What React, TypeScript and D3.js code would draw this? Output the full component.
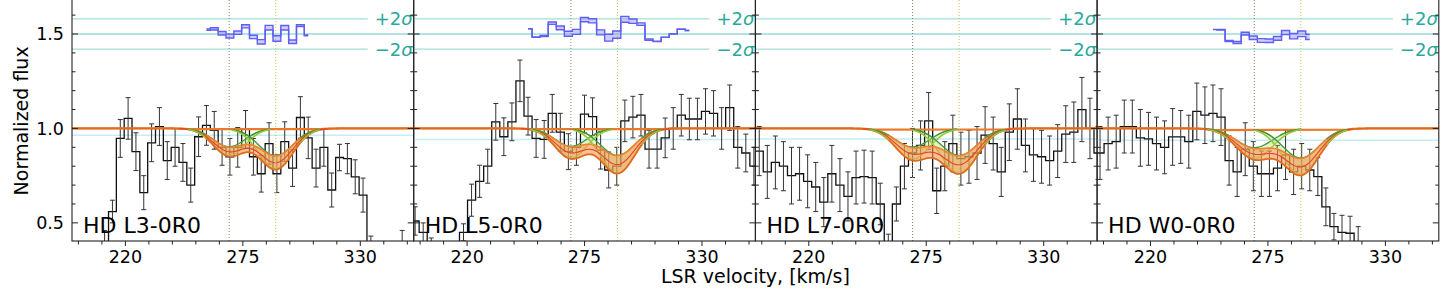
import React, { useEffect, useRef } from 'react';
import * as d3 from 'd3';

// ---------------- data ----------------
const PANEL_NAMES = ['HD L3-0R0', 'HD L5-0R0', 'HD L7-0R0', 'HD W0-0R0'];

// spectral bins: centre of first bin and bin width (km/s)
const BIN_START = [195.6, 195.66, 196.8, 192.6];
const BIN_WIDTH = [3.667, 3.777, 3.777, 3.777];

const FLUX_L3 = [0.30, 0.30, 0.30, 0.30, 0.40, 0.56, 0.947, 1.053, 0.877, 0.66, 0.924, 1.01, 0.83, 0.90, 0.82, 0.70, 0.956, 1.016, 0.99, 0.90, 0.85, 0.90, 0.995, 0.85, 0.76, 0.92, 0.76, 0.93, 0.79, 1.058, 0.95, 0.79, 0.90, 0.674, 0.846, 0.84, 0.744, 0.647, 0.35, 0.25, 0.25, 0.25, 0.36, 0.25];
const ERR_L3 = [0.05, 0.05, 0.05, 0.05, 0.06, 0.06, 0.10, 0.11, 0.10, 0.09, 0.10, 0.10, 0.10, 0.10, 0.10, 0.09, 0.105, 0.105, 0.10, 0.095, 0.097, 0.105, 0.10, 0.097, 0.097, 0.11, 0.10, 0.105, 0.097, 0.11, 0.11, 0.10, 0.10, 0.09, 0.07, 0.08, 0.09, 0.09, 0.08, 0.05, 0.05, 0.05, 0.10, 0.05];

const FLUX_L5 = [0.51, 0.45, 0.36, 0.30, 0.30, 0.30, 0.45, 0.62, 0.72, 0.80, 1.035, 0.956, 1.035, 1.252, 1.065, 0.947, 0.942, 1.08, 0.98, 0.877, 0.90, 1.076, 1.062, 0.885, 0.78, 0.80, 1.04, 1.06, 1.07, 0.89, 0.89, 0.95, 1.00, 1.07, 1.05, 1.05, 1.09, 1.08, 1.00, 1.11, 0.90, 0.87, 0.80];
const ERR_L5 = [0.075, 0.05, 0.06, 0.05, 0.05, 0.05, 0.045, 0.085, 0.085, 0.09, 0.097, 0.10, 0.10, 0.11, 0.10, 0.10, 0.10, 0.10, 0.10, 0.095, 0.095, 0.10, 0.10, 0.10, 0.095, 0.10, 0.11, 0.11, 0.11, 0.10, 0.10, 0.105, 0.11, 0.11, 0.11, 0.11, 0.12, 0.12, 0.11, 0.12, 0.11, 0.10, 0.10];

const FLUX_L7 = [0.88, 0.77, 0.82, 0.80, 0.75, 0.76, 0.72, 0.69, 0.61, 0.76, 0.70, 0.64, 0.74, 0.745, 0.74, 0.60, 0.36, 0.60, 0.80, 0.87, 0.91, 1.04, 0.67, 0.80, 0.92, 0.84, 0.85, 0.87, 0.965, 0.92, 0.77, 0.98, 1.05, 0.91, 0.86, 0.85, 0.83, 0.88, 0.97, 0.98, 1.10, 1.00, 0.87];
const ERR_L7 = [0.13, 0.14, 0.14, 0.13, 0.15, 0.14, 0.14, 0.13, 0.13, 0.15, 0.14, 0.13, 0.14, 0.14, 0.14, 0.11, 0.08, 0.09, 0.12, 0.13, 0.13, 0.15, 0.12, 0.13, 0.15, 0.14, 0.14, 0.14, 0.15, 0.14, 0.13, 0.15, 0.16, 0.14, 0.14, 0.14, 0.13, 0.14, 0.15, 0.16, 0.17, 0.16, 0.14];

const FLUX_W0 = [0.99, 0.87, 0.92, 0.93, 1.01, 1.01, 0.95, 0.945, 0.92, 0.90, 0.955, 0.955, 0.93, 1.09, 1.07, 1.08, 1.06, 0.83, 0.77, 0.89, 0.80, 0.76, 0.76, 0.79, 0.86, 0.77, 0.80, 0.78, 0.745, 0.585, 0.48, 0.45, 0.445, 0.40, 0.30, 0.30, 0.30, 0.30, 0.30, 0.30, 0.30, 0.30, 0.30, 0.30];
const ERR_W0 = [0.14, 0.14, 0.14, 0.14, 0.14, 0.14, 0.15, 0.14, 0.14, 0.14, 0.15, 0.14, 0.14, 0.15, 0.15, 0.15, 0.15, 0.13, 0.13, 0.14, 0.13, 0.12, 0.12, 0.12, 0.13, 0.12, 0.12, 0.11, 0.10, 0.10, 0.07, 0.09, 0.09, 0.08, 0.05, 0.05, 0.05, 0.05, 0.05, 0.05, 0.05, 0.05, 0.05, 0.05];

// two-component gaussian fit (centres in km/s, depths, widths), band = relative spread
const CENTRES = [268.6, 290.4];
const DEPTH_A = [0.12, 0.125, 0.13, 0.13];
const DEPTH_B = [0.18, 0.19, 0.19, 0.2];
const SIGMA_A = [7.5, 7.5, 8, 8.5];
const SIGMA_B = [8, 8, 8.5, 8.5];
const BAND = [0.2, 0.25, 0.25, 0.22];

// faint continuum line just under 1.0
const CONT_LINE = [0.964, 0.942, 0.944, 0.938];
// velocity window where residuals are drawn (null = none)
const RESID_RANGE: ([number, number] | null)[] = [[257, 306], [248, 325], null, [248, 295]];

const X_TICKS = [220, 275, 330];
const Y_TICKS = [0.5, 1.0, 1.5];

// ---------------- layout ----------------
const W = 1440;
const H = 288;
const LEFT = 72;
const PANEL_W = 341.7;
const PLOT_TOP = 0;
const PLOT_BOTTOM = 241;
const X_DOMAIN = [195, 355];
const Y_DOMAIN = [0.404, 1.68];
const FONT = "'DejaVu Sans', sans-serif";

const FLUXES = [FLUX_L3, FLUX_L5, FLUX_L7, FLUX_W0];
const ERRS = [ERR_L3, ERR_L5, ERR_L7, ERR_W0];
const DEPTHS = [DEPTH_A, DEPTH_B];
const SIGMAS = [SIGMA_A, SIGMA_B];

// model flux for panel p, depth scaled by `scale`; `only` picks one component
const model = (v: number, p: number, scale: number, only?: number) => {
  let f = 1;
  CENTRES.forEach((c, i) => {
    if (only !== undefined && only !== i) return;
    const s = SIGMAS[i][p];
    f *= 1 - DEPTHS[i][p] * scale * Math.exp(-((v - c) ** 2) / (2 * s * s));
  });
  return f;
};

const App = () => {
  const svgRef = useRef<SVGSVGElement | null>(null);

  useEffect(() => {
    const svg = d3.select(svgRef.current);
    svg.selectAll('*').remove();

    const y = d3.scaleLinear().domain(Y_DOMAIN).range([PLOT_BOTTOM, PLOT_TOP]);
    const samples = d3.range(X_DOMAIN[0], X_DOMAIN[1] + 0.01, 0.4);

    PANEL_NAMES.forEach((name, p) => {
      const left = LEFT + p * PANEL_W;
      const right = left + PANEL_W;
      const x = d3.scaleLinear().domain(X_DOMAIN).range([left, right]);
      const flux = FLUXES[p];
      const err = ERRS[p];
      const bw = BIN_WIDTH[p];
      const centres = flux.map((_, i) => BIN_START[p] + i * bw);
      const band = BAND[p];

      const clipId = `clip-${p}`;
      svg.append('clipPath').attr('id', clipId)
        .append('rect')
        .attr('x', left).attr('y', PLOT_TOP)
        .attr('width', PANEL_W).attr('height', PLOT_BOTTOM - PLOT_TOP);
      const g = svg.append('g').attr('clip-path', `url(#${clipId})`);

      // faint line under the continuum
      g.append('line')
        .attr('x1', left).attr('x2', right)
        .attr('y1', y(CONT_LINE[p])).attr('y2', y(CONT_LINE[p]))
        .attr('stroke', '#c4eef6').attr('stroke-width', 1.5);

      // residual reference lines
      [1.42, 1.58].forEach(v => {
        g.append('line')
          .attr('x1', left).attr('x2', right)
          .attr('y1', y(v)).attr('y2', y(v))
          .attr('stroke', '#8fd6cc').attr('stroke-width', 1);
      });
      g.append('line')
        .attr('x1', left).attr('x2', right)
        .attr('y1', y(1.5)).attr('y2', y(1.5))
        .attr('stroke', '#6cc8cc').attr('stroke-width', 1.2);

      // data histogram
      const histPts: [number, number][] = [];
      flux.forEach((f, i) => {
        histPts.push([x(centres[i] - bw / 2), y(f)], [x(centres[i] + bw / 2), y(f)]);
      });
      g.append('path')
        .attr('d', d3.line()(histPts))
        .attr('fill', 'none').attr('stroke', '#111').attr('stroke-width', 1.3);

      // error bars
      const eb = g.append('g').attr('stroke', '#333').attr('stroke-width', 1);
      flux.forEach((f, i) => {
        const cx = x(centres[i]);
        eb.append('line').attr('x1', cx).attr('x2', cx).attr('y1', y(f - err[i])).attr('y2', y(f + err[i]));
        [f - err[i], f + err[i]].forEach(v => {
          eb.append('line').attr('x1', cx - 2.5).attr('x2', cx + 2.5).attr('y1', y(v)).attr('y2', y(v));
        });
      });

      const lo = (v: number) => model(v, p, 1 + band);
      const hi = (v: number) => model(v, p, 1 - band);

      // individual components (under the total band)
      CENTRES.forEach((c, i) => {
        const s = SIGMAS[i][p];
        const vs = samples.filter(v => Math.abs(v - c) <= 2.6 * s);
        g.append('path')
          .attr('d', d3.area<number>().x(v => x(v))
            .y0(v => y(model(v, p, 1 + band, i)))
            .y1(v => y(model(v, p, 1 - band, i)))(vs))
          .attr('fill', '#b4d86a').attr('fill-opacity', 0.35);
        g.append('path')
          .attr('d', d3.line<number>().x(v => x(v)).y(v => y(model(v, p, 1 + band, i)))(vs))
          .attr('fill', 'none').attr('stroke', '#98c83a').attr('stroke-width', 1.3);
        g.append('path')
          .attr('d', d3.line<number>().x(v => x(v)).y(v => y(model(v, p, 1 - band, i)))(vs))
          .attr('fill', 'none').attr('stroke', '#3d9a3d').attr('stroke-width', 1.3);
      });

      // total model band
      g.append('path')
        .attr('d', d3.area<number>().x(v => x(v)).y0(v => y(lo(v))).y1(v => y(hi(v)))(samples))
        .attr('fill', '#f39a4c').attr('fill-opacity', 0.6);
      g.append('path')
        .attr('d', d3.line<number>().x(v => x(v)).y(v => y(hi(v)))(samples.filter(v => v < 250 || v > 312)))
        .attr('fill', 'none').attr('stroke', '#ea7a28').attr('stroke-width', 2.2);
      g.append('path')
        .attr('d', d3.line<number>().x(v => x(v)).y(v => y(hi(v)))(samples.filter(v => v >= 248 && v <= 314)))
        .attr('fill', 'none').attr('stroke', '#ee8230').attr('stroke-width', 1.6);
      g.append('path')
        .attr('d', d3.line<number>().x(v => x(v)).y(v => y(lo(v)))(samples))
        .attr('fill', 'none').attr('stroke', '#e26a1c').attr('stroke-width', 1.8);
      g.append('path')
        .attr('d', d3.line<number>().x(v => x(v)).y(v => y(model(v, p, 1)))(samples.filter(v => v > 245 && v < 315)))
        .attr('fill', 'none').attr('stroke', '#e8402a').attr('stroke-width', 1.1);

      // green continuum segments stay visible on top near 1.0
      CENTRES.forEach((c, i) => {
        const s = SIGMAS[i][p];
        const vs = samples.filter(v => Math.abs(v - c) <= 2.6 * s && Math.abs(v - c) >= 1.4 * s);
        const parts = [vs.filter(v => v < c), vs.filter(v => v > c)];
        parts.forEach(part => {
          g.append('path')
            .attr('d', d3.line<number>().x(v => x(v)).y(v => y(model(v, p, 1 - band, i)))(part))
            .attr('fill', 'none').attr('stroke', '#3d9a3d').attr('stroke-width', 1.2);
          g.append('path')
            .attr('d', d3.line<number>().x(v => x(v)).y(v => y(model(v, p, 1 + band, i)))(part))
            .attr('fill', 'none').attr('stroke', '#98c83a').attr('stroke-width', 1.2);
        });
      });

      // component centres
      CENTRES.forEach((c, i) => {
        g.append('line')
          .attr('x1', x(c)).attr('x2', x(c))
          .attr('y1', PLOT_TOP).attr('y2', PLOT_BOTTOM)
          .attr('stroke', i === 0 ? '#85856a' : '#c8c25c')
          .attr('stroke-width', 1).attr('stroke-dasharray', '1,2');
      });

      // residuals
      const rr = RESID_RANGE[p];
      if (rr) {
        const idx = d3.range(flux.length).filter(i => centres[i] >= rr[0] && centres[i] <= rr[1]);
        const rLo = (i: number) => 1.5 + 0.04 * (flux[i] - lo(centres[i])) / err[i];
        const rHi = (i: number) => 1.5 + 0.04 * (flux[i] - hi(centres[i])) / err[i];
        g.append('path')
          .attr('d', d3.area<number>().curve(d3.curveStep).x(i => x(centres[i])).y0(i => y(rLo(i))).y1(i => y(rHi(i)))(idx))
          .attr('fill', '#9a9aff').attr('fill-opacity', 0.5);
        [rLo, rHi].forEach(fn => {
          g.append('path')
            .attr('d', d3.line<number>().curve(d3.curveStep).x(i => x(centres[i])).y(i => y(fn(i)))(idx))
            .attr('fill', 'none').attr('stroke', '#5f5ff2').attr('stroke-width', 1.4);
        });
      }

      // +-2 sigma labels
      [[1.58, '+2'], [1.42, '\u22122']].forEach(([v, lab]) => {
        const cy = y(v as number);
        g.append('rect')
          .attr('x', right - 46).attr('y', cy - 10).attr('width', 46).attr('height', 20)
          .attr('fill', '#fff');
        const t = g.append('text')
          .attr('x', right - 1).attr('y', cy + 6.5)
          .attr('text-anchor', 'end')
          .attr('font-family', FONT).attr('font-size', 18).attr('fill', '#2aa89a')
          .text(lab as string);
        t.append('tspan').attr('font-style', 'italic').text('\u03c3');
      });

      // panel label
      svg.append('text')
        .attr('x', left + 11).attr('y', 233)
        .attr('font-family', FONT).attr('font-size', 22).attr('fill', '#000')
        .text(name);

      // ticks
      const ax = svg.append('g').attr('stroke', '#222').attr('stroke-width', 1);
      d3.range(0.5, 1.65, 0.1).forEach(v => {
        const major = Y_TICKS.some(t => Math.abs(t - v) < 1e-6);
        const len = major ? 6 : 3.5;
        ax.append('line').attr('x1', left).attr('x2', left + len).attr('y1', y(v)).attr('y2', y(v));
        ax.append('line').attr('x1', right).attr('x2', right - len).attr('y1', y(v)).attr('y2', y(v));
      });
      d3.range(198, 356, 11).forEach(v => {
        const major = X_TICKS.includes(v);
        ax.append('line').attr('x1', x(v)).attr('x2', x(v))
          .attr('y1', PLOT_BOTTOM).attr('y2', PLOT_BOTTOM + (major ? 5 : 3.5));
      });
      X_TICKS.forEach(v => {
        svg.append('text')
          .attr('x', x(v)).attr('y', 263)
          .attr('text-anchor', 'middle')
          .attr('font-family', FONT).attr('font-size', 17.5).attr('fill', '#000')
          .text(String(v));
      });
      if (p === 0) {
        Y_TICKS.forEach(v => {
          svg.append('text')
            .attr('x', left - 8).attr('y', y(v) + 6.3)
            .attr('text-anchor', 'end')
            .attr('font-family', FONT).attr('font-size', 17.5).attr('fill', '#000')
            .text(v.toFixed(1));
        });
      }

      // frame
      svg.append('rect')
        .attr('x', left).attr('y', PLOT_TOP - 2)
        .attr('width', PANEL_W).attr('height', PLOT_BOTTOM - PLOT_TOP + 2)
        .attr('fill', 'none').attr('stroke', '#222').attr('stroke-width', 1.1);
    });

    svg.append('text')
      .attr('x', LEFT + 2 * PANEL_W).attr('y', 283)
      .attr('text-anchor', 'middle')
      .attr('font-family', FONT).attr('font-size', 19).attr('fill', '#000')
      .text('LSR velocity, [km/s]');

    svg.append('text')
      .attr('transform', `translate(28,${y(1.04)}) rotate(-90)`)
      .attr('text-anchor', 'middle')
      .attr('font-family', FONT).attr('font-size', 19).attr('fill', '#000')
      .text('Normalized flux');
  }, []);

  return (
    <div style={{ position: 'absolute', left: 0, top: 0, background: '#fff' }}>
      <svg ref={svgRef} width={W} height={H} viewBox={`0 0 ${W} ${H}`} />
    </div>
  );
};

export default App;
